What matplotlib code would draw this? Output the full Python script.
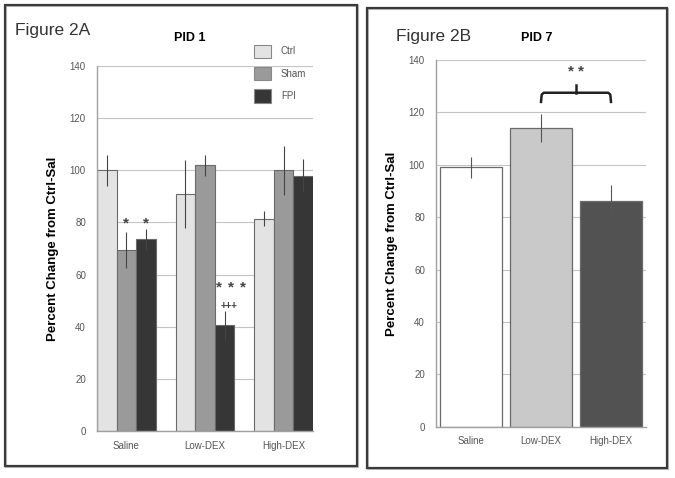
import matplotlib.pyplot as plt
import numpy as np
from matplotlib.patches import Patch, Rectangle

plt.rcParams["font.family"] = ["Liberation Sans", "DejaVu Sans"]

# Figure 2A: PID 1
groups_a = ["Saline", "Low-DEX", "High-DEX"]
series_a = ["Ctrl", "Sham", "FPI"]
means_a = {
    "Ctrl": [100.0, 91.0, 81.5],
    "Sham": [69.5, 102.0, 100.0],
    "FPI": [73.5, 40.5, 98.0],
}
errs_a = {
    "Ctrl": [6.0, 13.0, 3.0],
    "Sham": [7.0, 4.0, 9.5],
    "FPI": [4.0, 5.5, 6.5],
}
colors_a = {"Ctrl": "#e3e3e3", "Sham": "#9a9a9a", "FPI": "#363636"}

# Figure 2B: PID 7
groups_b = ["Saline", "Low-DEX", "High-DEX"]
means_b = [99.0, 114.0, 86.0]
errs_b = [4.0, 5.3, 6.4]
colors_b = ["#ffffff", "#c9c9c9", "#525252"]

yticks = [0, 20, 40, 60, 80, 100, 120, 140]

fig = plt.figure(figsize=(6.75, 4.78), dpi=100)
W, H = 675, 478


def fig_box(x0, y0, x1, y1):
    return [x0 / W, 1 - y1 / H, (x1 - x0) / W, (y1 - y0) / H]


# panel frames
for x0, y0, x1, y1 in [(5, 5, 357, 466), (367, 8, 667, 468)]:
    b = fig_box(x0, y0, x1, y1)
    fig.patches.append(Rectangle((b[0] + 0.002, b[1] - 0.003), b[2], b[3], transform=fig.transFigure,
                                 facecolor="none", edgecolor="#bbbbbb", linewidth=1.5, zorder=0))
    fig.patches.append(Rectangle((b[0], b[1]), b[2], b[3], transform=fig.transFigure,
                                 facecolor="none", edgecolor="#3a3a3a", linewidth=1.6, zorder=1))


def style_axes(ax):
    ax.set_ylim(0, 140)
    ax.set_yticks(yticks)
    ax.grid(axis="y", color="#c4c4c4", linewidth=0.8)
    ax.set_axisbelow(True)
    for side in ["top", "right"]:
        ax.spines[side].set_visible(False)
    for side in ["left", "bottom"]:
        ax.spines[side].set_color("#a0a0a0")
        ax.spines[side].set_linewidth(1.0)
    ax.tick_params(axis="y", length=0, labelsize=7, labelcolor="#555555", pad=8)
    ax.tick_params(axis="x", length=0, labelsize=7, labelcolor="#555555", pad=7)
    ax.set_ylabel("Percent Change from Ctrl-Sal", fontsize=9.5, fontweight="bold", labelpad=8)


def stars(ax, xc, y, n, step, fs):
    offs = (np.arange(n) - (n - 1) / 2) * step
    for o in offs:
        ax.text(xc + o, y, "*", ha="center", va="center", fontsize=fs, color="#444444",
                fontweight="bold")


# ---- left panel
ax1 = fig.add_axes(fig_box(97, 66, 313, 431))
w = 0.25
x = np.arange(len(groups_a))
for i, s in enumerate(series_a):
    ax1.bar(x + (i - 1) * w, means_a[s], w, color=colors_a[s], edgecolor="#6a6a6a", linewidth=0.8,
            zorder=2)
    ax1.errorbar(x + (i - 1) * w, means_a[s], yerr=errs_a[s], fmt="none", ecolor="#444444",
                 elinewidth=0.8, capsize=0, zorder=3)
ax1.set_xlim(-0.375, 2.375)
ax1.set_xticks(x, groups_a)
style_axes(ax1)
ax1.set_title("PID 1", fontsize=9, fontweight="bold", x=0.43, y=1.045)

stars(ax1, 0.0, 79.5, 1, 0.15, 11)
stars(ax1, 0.25, 79.5, 1, 0.15, 11)
stars(ax1, 1.33, 55.0, 3, 0.15, 11)
ax1.text(1.30, 48.0, "+++", ha="center", va="center", fontsize=7, color="#444444", fontweight="bold")

handles = [Patch(facecolor=colors_a[s], edgecolor="#888888", linewidth=0.8, label=s) for s in series_a]
fig.legend(handles=handles, loc="upper left", bbox_to_anchor=(245 / W, 1 - 36 / H), frameon=False,
           fontsize=7, labelcolor="#555555", handlelength=1.8, handleheight=1.7, labelspacing=0.95,
           handletextpad=1.0)

fig.text(15 / W, 1 - 31 / H, "Figure 2A", fontsize=12.5, va="center", color="#333333")

# ---- right panel
ax2 = fig.add_axes(fig_box(436, 60, 646, 426.7))
xb = np.arange(len(groups_b))
ax2.bar(xb, means_b, 0.88, color=colors_b, edgecolor="#6a6a6a", linewidth=0.9, zorder=2)
ax2.errorbar(xb, means_b, yerr=errs_b, fmt="none", ecolor="#555555", elinewidth=0.8, capsize=0,
             zorder=3)
ax2.set_xlim(-0.5, 2.5)
ax2.set_xticks(xb, groups_b)
style_axes(ax2)
ax2.set_title("PID 7", fontsize=9, fontweight="bold", x=0.48, y=1.03)

# significance bracket between Low-DEX and High-DEX
bx0, bx1 = 1.0, 2.0
bm = (bx0 + bx1) / 2
ax2.plot([bx0, bx0 + 0.01, bx0 + 0.04, bx1 - 0.04, bx1 - 0.01, bx1],
         [124.0, 126.8, 127.5, 127.5, 126.8, 124.0],
         color="#222222", linewidth=1.8, solid_joinstyle="round", clip_on=False, zorder=4)
ax2.plot([bm, bm], [127.5, 130.5], color="#222222", linewidth=1.8, zorder=4)
stars(ax2, bm, 135.5, 2, 0.14, 11)

fig.text(396 / W, 1 - 36 / H, "Figure 2B", fontsize=12.5, va="center", color="#333333")

fig.savefig("out.png", dpi=100)
